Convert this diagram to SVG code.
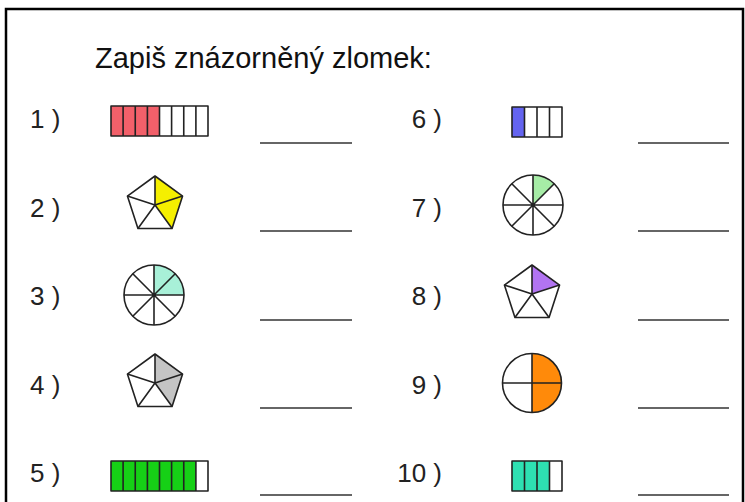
<svg xmlns="http://www.w3.org/2000/svg" width="745" height="502" viewBox="0 0 745 502">
<style>
.t{font-family:"Liberation Sans","DejaVu Sans",sans-serif;fill:#111}
.n{font-family:"Liberation Sans","DejaVu Sans",sans-serif;font-size:26px;fill:#222}
.s{stroke:#222;stroke-width:1.6;fill:none;stroke-linejoin:round}
.ln{stroke:#333;stroke-width:1.6}
</style>
<defs>
<g id="bar8">
<rect x="0" y="0" width="97" height="30" class="s"/>
<path d="M12.1 0V30M24.25 0V30M36.4 0V30M48.5 0V30M60.6 0V30M72.75 0V30M84.9 0V30" class="s"/>
</g>
<g id="bar4">
<rect x="0" y="0" width="50" height="30" class="s"/>
<path d="M12.5 0V30M25 0V30M37.5 0V30" class="s"/>
</g>
<g id="pent">
<polygon points="0,-29 27.58,-8.96 17.05,23.46 -17.05,23.46 -27.58,-8.96" class="s"/>
<path d="M0 0L0 -29M0 0L27.58 -8.96M0 0L17.05 23.46M0 0L-17.05 23.46M0 0L-27.58 -8.96" class="s"/>
</g>
<g id="circ8">
<circle r="30" class="s"/>
<path d="M-30 0H30M0 -30V30M-21.21 -21.21L21.21 21.21M-21.21 21.21L21.21 -21.21" class="s"/>
</g>
</defs>
<rect width="745" height="502" fill="#fff"/>
<path d="M6 510V9H743V510" fill="none" stroke="#000" stroke-width="2.5"/>
<text x="95" y="68" class="t" font-size="29">Zapiš znázorněný zlomek:</text>

<g id="item1">
<text x="30" y="128" class="n">1 )</text>
<rect x="111" y="106" width="48.5" height="30" fill="#f2606a"/>
<use href="#bar8" x="111" y="106"/>
<line x1="260" y1="143" x2="352" y2="143" class="ln"/>
</g>
<g id="item2">
<text x="30" y="217" class="n">2 )</text>
<path d="M155 205L155 176L182.58 196.04L172.05 228.46Z" fill="#f5ef00"/>
<use href="#pent" x="155" y="205"/>
<line x1="260" y1="231" x2="352" y2="231" class="ln"/>
</g>
<g id="item3">
<text x="30" y="305" class="n">3 )</text>
<path d="M154 295L154 265A30 30 0 0 1 184 295Z" fill="#a8f0d8"/>
<use href="#circ8" x="154" y="295"/>
<line x1="260" y1="320" x2="352" y2="320" class="ln"/>
</g>
<g id="item4">
<text x="30" y="394" class="n">4 )</text>
<path d="M155 383L155 354L182.58 374.04L172.05 406.46Z" fill="#c4c4c4"/>
<use href="#pent" x="155" y="383"/>
<line x1="260" y1="408" x2="352" y2="408" class="ln"/>
</g>
<g id="item5">
<text x="30" y="482" class="n">5 )</text>
<rect x="111" y="461" width="84.9" height="30" fill="#16d016"/>
<use href="#bar8" x="111" y="461"/>
<line x1="260" y1="495" x2="352" y2="495" class="ln"/>
</g>

<g id="item6">
<text x="442" y="128" class="n" text-anchor="end">6 )</text>
<rect x="512" y="107" width="12.5" height="30" fill="#6464f0"/>
<use href="#bar4" x="512" y="107"/>
<line x1="638" y1="143" x2="729" y2="143" class="ln"/>
</g>
<g id="item7">
<text x="442" y="217" class="n" text-anchor="end">7 )</text>
<path d="M533 205L533 175A30 30 0 0 1 554.21 183.79Z" fill="#a6eca6"/>
<use href="#circ8" x="533" y="205"/>
<line x1="638" y1="231" x2="729" y2="231" class="ln"/>
</g>
<g id="item8">
<text x="442" y="305" class="n" text-anchor="end">8 )</text>
<path d="M532 294L532 265L559.58 285.04Z" fill="#b274f2"/>
<use href="#pent" x="532" y="294"/>
<line x1="638" y1="320" x2="729" y2="320" class="ln"/>
</g>
<g id="item9">
<text x="442" y="394" class="n" text-anchor="end">9 )</text>
<path d="M532 353.5A29.5 29.5 0 0 1 532 412.5Z" fill="#ff8a0a"/>
<circle cx="532" cy="383" r="29.5" class="s"/>
<path d="M502.5 383H561.5M532 353.5V412.5" class="s"/>
<line x1="638" y1="408" x2="729" y2="408" class="ln"/>
</g>
<g id="item10">
<text x="442" y="482" class="n" text-anchor="end">10 )</text>
<rect x="512" y="461" width="37.5" height="30" fill="#2ee0b2"/>
<use href="#bar4" x="512" y="461"/>
<line x1="638" y1="495" x2="729" y2="495" class="ln"/>
</g>
</svg>
